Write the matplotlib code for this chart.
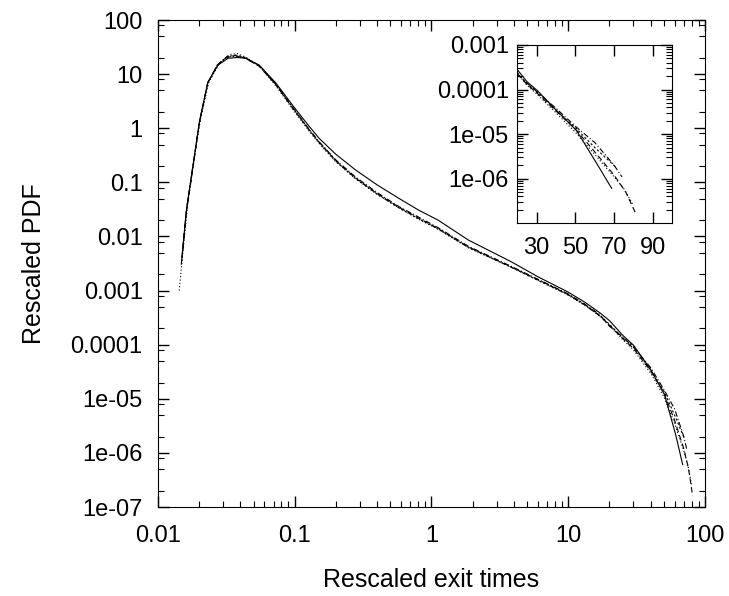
import numpy as np
import matplotlib
matplotlib.use('Agg')
import matplotlib.pyplot as plt
from matplotlib.ticker import LogLocator, NullFormatter

plt.rcParams['font.family'] = ['Liberation Sans', 'DejaVu Sans']

# solid curve
x_s = [0.0150, 0.0162, 0.0181, 0.0202, 0.0232, 0.0275, 0.0325, 0.038, 0.044, 0.055,
       0.073, 0.096, 0.127, 0.151, 0.2, 0.279, 0.4, 0.575, 0.8, 1.12, 1.86, 3.84, 6.0,
       9.9, 13.1, 17.0, 20.0, 25.0, 30.0, 40.0, 50.6, 61.0, 68.7]
y_s = [0.0042, 0.033, 0.22, 1.42, 7.2, 14.7, 19.6, 20.3, 19.6, 14.7,
       6.8, 2.7, 1.1, 0.65, 0.33, 0.169, 0.09, 0.051, 0.031, 0.020, 0.0086, 0.0034, 0.0018,
       0.00095, 6.2e-4, 3.9e-4, 2.8e-4, 1.5e-4, 9.8e-5, 3.5e-5, 1.2e-5, 2.2e-6, 6.1e-7]

# dashed curve
x_d1 = [0.0148, 0.0160, 0.0180, 0.0200, 0.0230, 0.0270, 0.032, 0.037, 0.043, 0.055,
        0.073, 0.096, 0.127, 0.151, 0.2, 0.279, 0.4, 0.575, 0.8, 1.12, 1.86, 3.84, 6.0,
        9.9, 13.1, 17.0, 20.0, 25.0, 30.0, 40.0, 50.0, 60.0, 70.0, 76.0, 81.3]
y_d1 = [0.003, 0.025, 0.18, 1.2, 6.5, 14.5, 21.0, 22.0, 20.0, 14.0,
        6.3, 2.4, 0.95, 0.55, 0.25, 0.12, 0.062, 0.035, 0.022, 0.014, 0.0064, 0.0027, 0.0016,
        0.00085, 5.5e-4, 3.4e-4, 2.3e-4, 1.3e-4, 8.5e-5, 3.3e-5, 1.3e-5, 4e-6, 1.2e-6, 5e-7, 1.6e-7]

# dotted curve
x_d2 = [0.0143, 0.0152, 0.0165, 0.0183, 0.0205, 0.0235, 0.028, 0.033, 0.038, 0.045,
        0.056, 0.073, 0.096, 0.127, 0.151, 0.2, 0.279, 0.4, 0.575, 0.8, 1.12, 1.86, 3.84,
        6.0, 9.9, 13.1, 17.0, 20.0, 25.0, 30.0, 40.0, 50.0, 60.0, 70.0, 75.0, 80.0]
y_d2 = [0.001, 0.005, 0.04, 0.25, 1.5, 7.0, 15.5, 23.0, 24.0, 20.0,
        13.5, 6.0, 2.3, 0.9, 0.52, 0.24, 0.115, 0.06, 0.034, 0.021, 0.0135, 0.0062, 0.0027,
        0.00155, 0.00083, 5.4e-4, 3.4e-4, 2.3e-4, 1.25e-4, 8e-5, 3e-5, 1.1e-5, 3.5e-6, 1.1e-6, 6e-7, 2.5e-7]

# dash-dot curve
x_d3 = [0.0149, 0.0161, 0.0180, 0.0201, 0.0231, 0.0272, 0.032, 0.037, 0.043, 0.055,
        0.073, 0.096, 0.127, 0.151, 0.2, 0.279, 0.4, 0.575, 0.8, 1.12, 1.86, 3.84, 6.0,
        9.9, 13.1, 17.0, 20.0, 25.0, 30.0, 40.0, 50.0, 60.0, 70.0, 74.0]
y_d3 = [0.0035, 0.028, 0.2, 1.3, 6.8, 14.8, 20.5, 21.5, 20.0, 14.2,
        6.5, 2.5, 0.97, 0.56, 0.26, 0.125, 0.065, 0.036, 0.023, 0.0145, 0.0066, 0.0028, 0.00162,
        0.00088, 5.7e-4, 3.6e-4, 2.2e-4, 1.4e-4, 9e-5, 3.8e-5, 1.5e-5, 6.5e-6, 2e-6, 1.1e-6]

# short-dash curve
x_d4 = [0.0150, 0.0161, 0.0181, 0.0202, 0.0232, 0.0273, 0.032, 0.037, 0.043, 0.055,
        0.073, 0.096, 0.127, 0.151, 0.2, 0.279, 0.4, 0.575, 0.8, 1.12, 1.86, 3.84, 6.0,
        9.9, 13.1, 17.0, 20.0, 25.0, 30.0, 40.0, 50.0, 60.0, 71.0]
y_d4 = [0.004, 0.03, 0.21, 1.35, 7.0, 15.0, 21.0, 22.5, 20.5, 14.3,
        6.4, 2.45, 0.93, 0.54, 0.245, 0.118, 0.061, 0.034, 0.0215, 0.0138, 0.0063, 0.0027, 0.00155,
        0.00086, 5.6e-4, 3.5e-4, 2.4e-4, 1.35e-4, 9.3e-5, 3.4e-5, 1.4e-5, 5e-6, 1.8e-6]

curves = [(x_s, y_s, '-'), (x_d1, y_d1, (0, (5, 3))), (x_d2, y_d2, (0, (1, 2))),
          (x_d3, y_d3, (0, (5, 2, 1, 2))), (x_d4, y_d4, (0, (2, 2)))]

main_yticks = [1e2, 1e1, 1, 1e-1, 1e-2, 1e-3, 1e-4, 1e-5, 1e-6, 1e-7]
main_ylabels = ['100', '10', '1', '0.1', '0.01', '0.001', '0.0001', '1e-05', '1e-06', '1e-07']
main_xticks = [0.01, 0.1, 1, 10, 100]
main_xlabels = ['0.01', '0.1', '1', '10', '100']
inset_xticks = [30, 50, 70, 90]
inset_yticks = [1e-3, 1e-4, 1e-5, 1e-6]
inset_ylabels = ['0.001', '0.0001', '1e-05', '1e-06']

fig = plt.figure(figsize=(7.29, 5.96), dpi=100)
ax = fig.add_axes([0.2167, 0.1493, 0.7503, 0.8171])
for xx, yy, ls in curves:
    ax.plot(xx, yy, color='black', lw=0.8, ls=ls)
ax.set_xscale('log')
ax.set_yscale('log')
ax.set_xlim(0.01, 100)
ax.set_ylim(1e-7, 100)
ax.set_xticks(main_xticks)
ax.set_xticklabels(main_xlabels)
ax.set_yticks(main_yticks)
ax.set_yticklabels(main_ylabels)
ax.xaxis.set_minor_locator(LogLocator(base=10, subs=np.arange(2, 10), numticks=20))
ax.yaxis.set_minor_locator(LogLocator(base=10, subs=[2, 5, 8], numticks=20))
ax.xaxis.set_minor_formatter(NullFormatter())
ax.yaxis.set_minor_formatter(NullFormatter())
ax.tick_params(which='both', direction='in', top=True, right=True, labelsize=17)
ax.tick_params(which='major', length=8, width=1)
ax.tick_params(which='minor', length=4, width=0.8)
ax.tick_params(axis='y', pad=11)
ax.tick_params(axis='x', pad=13)
ax.set_xlabel('Rescaled exit times', fontsize=18, labelpad=15)
ax.set_ylabel('Rescaled PDF', fontsize=18, labelpad=18)

ins = fig.add_axes([0.7096, 0.6253, 0.2126, 0.2992])
for xx, yy, ls in curves:
    xx = np.array(xx)
    yy = np.array(yy)
    m = xx >= 20
    ins.plot(xx[m], yy[m], color='black', lw=0.8, ls=ls)
ins.set_yscale('log')
ins.set_xlim(20, 100)
ins.set_ylim(1e-7, 1e-3)
ins.set_xticks(inset_xticks)
ins.set_yticks(inset_yticks)
ins.set_yticklabels(inset_ylabels)
ins.yaxis.set_minor_locator(LogLocator(base=10, subs=np.arange(2, 10), numticks=20))
ins.yaxis.set_minor_formatter(NullFormatter())
ins.tick_params(which='both', direction='in', top=True, right=True, labelsize=17)
ins.tick_params(which='major', length=8, width=1)
ins.tick_params(which='minor', length=4, width=0.8)
ins.tick_params(axis='y', pad=6)
ins.tick_params(axis='x', pad=10)

plt.savefig('out.png', dpi=100)
